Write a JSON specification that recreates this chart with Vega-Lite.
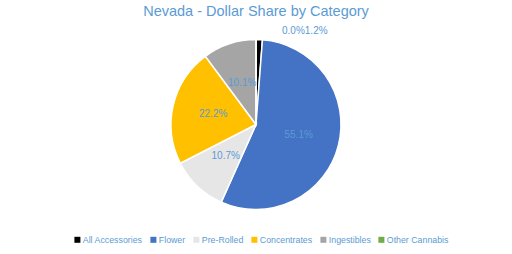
{
  "$schema": "https://vega.github.io/schema/vega-lite/v6.json",
  "width": 512,
  "height": 254,
  "autosize": {"type": "fit", "contains": "padding"},
  "padding": {"top": 3, "bottom": 30, "left": 5, "right": 5},
  "background": "white",
  "title": {
    "text": "Nevada - Dollar Share by Category",
    "font": "Liberation Sans",
    "fontSize": 14.5,
    "fontWeight": "normal",
    "color": "#5B9BD5",
    "offset": 6
  },
  "data": {
    "values": [
      {"category": "All Accessories", "idx": 1, "share": 0.012},
      {"category": "Flower", "idx": 2, "share": 0.551},
      {"category": "Pre-Rolled", "idx": 3, "share": 0.107},
      {"category": "Concentrates", "idx": 4, "share": 0.222},
      {"category": "Ingestibles", "idx": 5, "share": 0.101},
      {"category": "Other Cannabis", "idx": 6, "share": 0.0}
    ]
  },
  "encoding": {
    "theta": {"field": "share", "type": "quantitative", "stack": true},
    "order": {"field": "idx", "type": "quantitative"},
    "color": {
      "field": "category",
      "type": "nominal",
      "scale": {
        "domain": ["All Accessories", "Flower", "Pre-Rolled", "Concentrates", "Ingestibles", "Other Cannabis"],
        "range": ["#000000", "#4472C4", "#E7E6E6", "#FFC000", "#A5A5A5", "#70AD47"]
      },
      "legend": {
        "title": null,
        "orient": "none",
        "legendX": 68,
        "legendY": 210,
        "direction": "horizontal",
        "symbolType": "square",
        "symbolSize": 36,
        "symbolStrokeWidth": 0,
        "labelFont": "Liberation Sans",
        "labelFontSize": 8.8,
        "labelColor": "#5B9BD5",
        "labelOffset": 1,
        "columnPadding": 6
      }
    }
  },
  "layer": [
    {
      "mark": {"type": "arc", "outerRadius": 85, "stroke": "white", "strokeWidth": 1.5}
    },
    {
      "mark": {"type": "text", "radius": 44, "font": "Liberation Sans", "fontSize": 10},
      "encoding": {
        "text": {"field": "share", "type": "quantitative", "format": ".1%"},
        "opacity": {"condition": {"test": "datum.share >= 0.05", "value": 1}, "value": 0},
        "color": {"value": "#5B9BD5"}
      }
    },
    {
      "mark": {"type": "text", "radius": 100, "align": "left", "baseline": "middle", "dx": 26, "dy": 6, "font": "Liberation Sans", "fontSize": 10},
      "encoding": {
        "text": {"field": "share", "type": "quantitative", "format": ".1%"},
        "opacity": {"condition": {"test": "datum.category == 'Other Cannabis'", "value": 1}, "value": 0},
        "color": {"value": "#5B9BD5"}
      }
    },
    {
      "mark": {"type": "text", "radius": 100, "align": "left", "baseline": "middle", "dx": 45, "dy": 6, "font": "Liberation Sans", "fontSize": 10},
      "encoding": {
        "text": {"field": "share", "type": "quantitative", "format": ".1%"},
        "opacity": {"condition": {"test": "datum.category == 'All Accessories'", "value": 1}, "value": 0},
        "color": {"value": "#5B9BD5"}
      }
    }
  ]
}
